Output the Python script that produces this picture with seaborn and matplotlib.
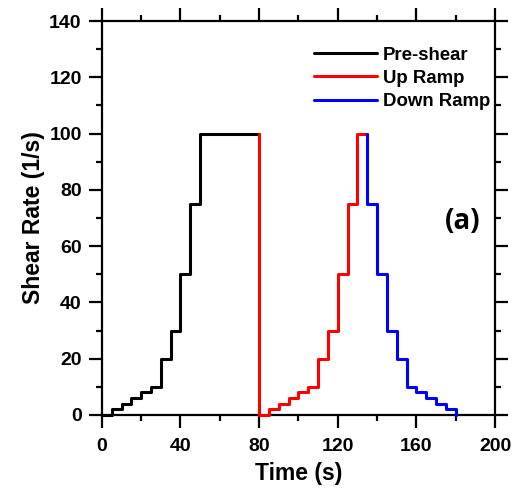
import matplotlib
matplotlib.use("Agg")
import matplotlib.pyplot as plt
import seaborn as sns
import pandas as pd
from matplotlib.ticker import MultipleLocator

# Data (step-post series)
pre_t = [0, 5, 10, 15, 20, 25, 30, 35, 40, 45, 50, 80]
pre_v = [0, 2, 4, 6, 8, 10, 20, 30, 50, 75, 100, 100]
up_t = [80, 80, 85, 90, 95, 100, 105, 110, 115, 120, 125, 130, 135]
up_v = [100, 0, 2, 4, 6, 8, 10, 20, 30, 50, 75, 100, 100]
down_t = [135, 135, 140, 145, 150, 155, 160, 165, 170, 175, 180]
down_v = [100, 75, 50, 30, 20, 10, 8, 6, 4, 2, 0]

labels = ["Pre-shear", "Up Ramp", "Down Ramp"]
colors = ["#000000", "#ff0000", "#0000ff"]

sns.set_style("ticks")
plt.rcParams['font.family'] = ['Liberation Sans', 'DejaVu Sans']
plt.rcParams['font.weight'] = 'bold'
plt.rcParams['text.color'] = 'black'
plt.rcParams['axes.labelcolor'] = 'black'

fig = plt.figure(figsize=(5.25, 4.91), dpi=100)
ax = fig.add_axes([0.194, 0.155, 0.749, 0.802])

for t, v, lab, c in zip([pre_t, up_t, down_t], [pre_v, up_v, down_v], labels, colors):
    df = pd.DataFrame({"t": t, "v": v})
    sns.lineplot(data=df, x="t", y="v", ax=ax, color=c, label=lab,
                 estimator=None, sort=False, drawstyle="steps-post",
                 linewidth=2.2, clip_on=False, zorder=5)

ax.set_xlim(0, 200)
ax.set_ylim(0, 140)
ax.xaxis.set_major_locator(MultipleLocator(40))
ax.xaxis.set_minor_locator(MultipleLocator(20))
ax.yaxis.set_major_locator(MultipleLocator(20))
ax.yaxis.set_minor_locator(MultipleLocator(10))

for s in ax.spines.values():
    s.set_linewidth(1.6)
    s.set_color('black')
ax.tick_params(which='major', direction='out', length=9.5, width=1.6,
               top=True, right=True, labelsize=14, colors='black')
ax.tick_params(axis='x', which='major', pad=7)
ax.tick_params(axis='y', which='major', pad=5)
ax.tick_params(which='minor', direction='out', length=4.5, width=1.6,
               top=True, right=True, colors='black')
for lab in ax.get_xticklabels() + ax.get_yticklabels():
    lab.set_fontweight('bold')

ax.set_xlabel("Time (s)", fontsize=16.5, fontweight='bold', labelpad=5)
ax.set_ylabel("Shear Rate (1/s)", fontsize=16.5, fontweight='bold', labelpad=3)

leg = ax.legend(loc='upper left', bbox_to_anchor=(0.54, 0.935), frameon=False,
                fontsize=13.4, handlelength=3.4, handletextpad=0.3,
                labelspacing=0.33, borderpad=0, borderaxespad=0)
for text in leg.get_texts():
    text.set_fontweight('bold')
    text.set_color('black')

ax.text(0.962, 0.49, "(a)", transform=ax.transAxes, ha='right', va='center',
        fontsize=20, fontweight='bold', family=['Open Sans', 'DejaVu Sans'])

fig.savefig("out.png", dpi=100)
